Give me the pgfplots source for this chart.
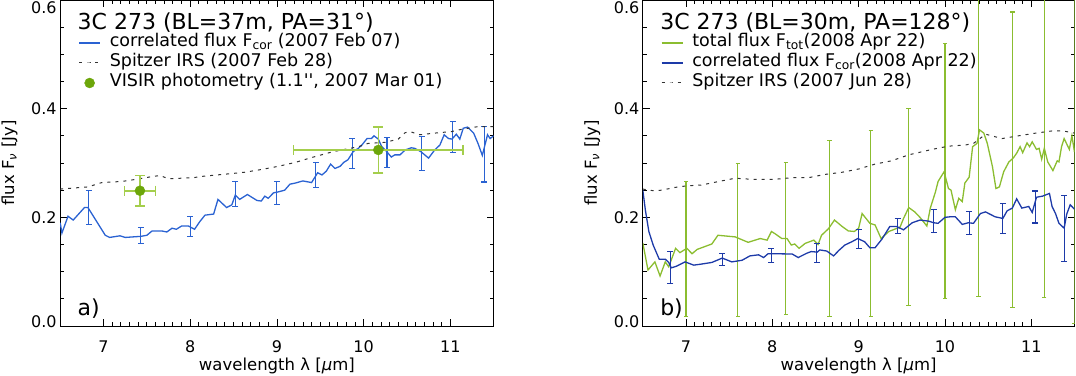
\documentclass[border=0pt]{standalone}
\usepackage{fontspec}
\setmainfont{DejaVu Sans}
\usepackage{pgfplots}
\pgfplotsset{compat=1.18}

\definecolor{corA}{HTML}{2A62D2}
\definecolor{corB}{HTML}{1D3AA8}
\definecolor{totG}{HTML}{8BBD30}
\definecolor{dotG}{HTML}{6CA60A}
\definecolor{errG}{HTML}{A4CE4C}
\definecolor{spz}{HTML}{333333}

\pgfplotsset{
  irsaxis/.style={
    scale only axis, height=326pt,
    xmin=6.5, xmax=11.5, ymin=0, ymax=0.6,
    xtick={7,8,9,10,11}, xticklabels={7,8,9,10,11},
    ytick={0,0.2,0.4,0.6},
    yticklabels={{\raisebox{4pt}[\height][\depth]{0.0}},0.2,0.4,{\raisebox{-7.5pt}[\height][\depth]{0.6}}},
    minor x tick num=9, minor y tick num=3,
    major tick length=7pt, minor tick length=4pt,
    tick style={black, line width=0.8pt},
    axis line style={black, line width=1pt},
    tick label style={font=\fontsize{16}{19}\selectfont},
    xticklabel style={yshift=-11.5pt},
    xlabel={wavelength λ [{\itshape μ}m]},
    ylabel={flux F\textsubscript{\itshape ν} [Jy]},
    every axis x label/.style={at={(axis description cs:0.5,-0.123)}, anchor=center,
      font=\fontsize{16.5}{20}\selectfont},
    every axis y label/.style={at={(axis description cs:-0.117,0.5)}, anchor=center, rotate=90,
      font=\fontsize{16.5}{20}\selectfont},
    legend style={draw=none, fill=none, inner sep=0pt, outer sep=0pt,
      at={(axis description cs:0.0422,0.8988)}, anchor=north west,
      font=\fontsize{17.5}{20}\selectfont, row sep=0pt,
      nodes={inner xsep=0pt, inner ysep=0pt, text height=14pt, text depth=6pt},
      /tikz/every odd column/.append style={column sep=9pt}},
    legend cell align=left,
    legend image code/.code={\draw[mark repeat=2,mark phase=2,#1] plot coordinates {(0pt,0pt) (10.5pt,0pt) (21pt,0pt)};},
  },
  spitzer/.style={color=spz, line width=1pt, dash pattern=on 3pt off 5pt},
  ebars/.style 2 args={draw=none, mark=none, forget plot,
    error bars/.cd, y dir=both, y explicit,
    error bar style={draw=#1, line width=1.1pt},
    error mark options={rotate=90, draw=#1, line width=1.1pt, mark size=#2}},
}

\begin{document}
\begin{tikzpicture}
\useasboundingbox (0,0) rectangle (1076pt,375pt);

% ---------------- a) BL=37m ----------------
\begin{axis}[irsaxis, width=433.4pt, at={(60.2pt,49pt)}, anchor=south west]
\addplot[color=corA, line width=1.3pt] table {
6.50 0.190
6.52 0.171
6.59 0.202
6.65 0.195
6.78 0.218
6.82 0.218
7.02 0.167
7.07 0.163
7.19 0.166
7.25 0.163
7.34 0.164
7.43 0.165
7.50 0.167
7.56 0.175
7.67 0.175
7.73 0.173
7.79 0.180
7.84 0.178
7.90 0.184
7.98 0.184
8.05 0.178
8.11 0.192
8.17 0.204
8.27 0.206
8.32 0.233
8.42 0.218
8.48 0.223
8.52 0.241
8.57 0.233
8.66 0.242
8.77 0.231
8.82 0.230
8.86 0.239
8.90 0.235
8.96 0.245
9.02 0.247
9.09 0.250
9.15 0.261
9.21 0.263
9.30 0.267
9.40 0.264
9.47 0.282
9.52 0.278
9.57 0.285
9.62 0.298
9.67 0.290
9.73 0.294
9.77 0.301
9.82 0.306
9.88 0.321
9.94 0.327
9.98 0.333
10.04 0.345
10.09 0.345
10.12 0.350
10.17 0.344
10.21 0.330
10.25 0.324
10.32 0.311
10.36 0.315
10.42 0.315
10.48 0.324
10.55 0.328
10.59 0.327
10.66 0.321
10.75 0.309
10.82 0.324
10.88 0.333
10.93 0.352
10.98 0.345
11.02 0.344
11.07 0.353
11.11 0.344
11.15 0.364
11.20 0.366
11.27 0.355
11.32 0.336
11.37 0.314
11.43 0.352
11.46 0.345
11.50 0.350
};
\addlegendentry{correlated flux F\textsubscript{cor} (2007 Feb 07)}
\addplot[ebars={corA}{3pt}]
  table[x index=0, y index=1, y error index=2] {
6.83 0.218 0.031
7.43 0.167 0.015
8.00 0.183 0.019
8.52 0.243 0.023
9.00 0.245 0.0215
9.45 0.278 0.023
9.87 0.318 0.0275
10.27 0.319 0.028
10.67 0.317 0.0315
11.03 0.348 0.028
11.39 0.316 0.051
};
\addplot[spitzer] table {
6.50 0.252
6.82 0.256
6.98 0.264
7.21 0.266
7.38 0.270
7.56 0.275
7.65 0.277
7.75 0.271
8.04 0.273
8.11 0.275
8.44 0.280
8.63 0.283
8.82 0.288
9.02 0.294
9.21 0.301
9.40 0.310
9.65 0.321
9.75 0.324
9.94 0.330
10.05 0.336
10.25 0.338
10.40 0.344
10.48 0.356
10.55 0.357
10.65 0.352
10.82 0.355
11.02 0.358
11.13 0.362
11.32 0.367
11.50 0.367
};
\addlegendentry{Spitzer IRS (2007 Feb 28)}
\addplot[only marks, mark=*, mark size=5pt, color=dotG, mark options={draw=dotG, fill=dotG},
  error bars/.cd, x dir=both, x explicit, y dir=both, y explicit,
  error bar style={draw=errG, line width=1.6pt},
  error mark options={rotate=90, draw=errG, line width=1.6pt, mark size=5pt}]
  table[x index=0, y index=1, x error index=2, y error index=3] {
7.42 0.249 0.18 0.028
10.17 0.324 0.98 0.042
};
\addlegendentry{VISIR photometry (1.1\textquotesingle\textquotesingle, 2007 Mar 01)}
\node[anchor=base west, font=\fontsize{22}{26}\selectfont, inner sep=0pt] at (rel axis cs:0.040,0.911) {3C 273 (BL=37m, PA=31°)};
\node[anchor=base west, font=\fontsize{22}{26}\selectfont, inner sep=0pt] at (rel axis cs:0.040,0.031) {a)};
\end{axis}

% ---------------- b) BL=30m ----------------
\begin{axis}[irsaxis, width=431.7pt, at={(642.8pt,49pt)}, anchor=south west]
\addplot[color=totG, line width=1.3pt] table {
6.50 0.153
6.56 0.103
6.64 0.118
6.70 0.092
6.76 0.118
6.80 0.109
6.88 0.143
6.93 0.135
7.01 0.143
7.07 0.133
7.13 0.141
7.30 0.151
7.37 0.167
7.57 0.164
7.72 0.154
7.86 0.161
7.94 0.158
7.99 0.174
8.03 0.170
8.11 0.161
8.17 0.161
8.22 0.149
8.26 0.151
8.31 0.143
8.38 0.152
8.48 0.158
8.53 0.150
8.57 0.167
8.65 0.179
8.72 0.195
8.81 0.183
8.88 0.175
8.95 0.174
9.00 0.180
9.04 0.207
9.13 0.189
9.19 0.186
9.26 0.161
9.35 0.174
9.48 0.182
9.52 0.198
9.58 0.218
9.65 0.210
9.71 0.200
9.79 0.184
9.83 0.217
9.89 0.247
9.92 0.266
9.99 0.284
10.04 0.253
10.07 0.250
10.12 0.214
10.16 0.235
10.20 0.229
10.23 0.263
10.28 0.274
10.32 0.330
10.37 0.336
10.40 0.361
10.45 0.355
10.49 0.336
10.55 0.293
10.59 0.253
10.63 0.256
10.68 0.284
10.74 0.302
10.79 0.309
10.83 0.318
10.87 0.330
10.90 0.319
10.95 0.337
10.98 0.330
11.01 0.339
11.06 0.325
11.09 0.327
11.12 0.307
11.15 0.327
11.19 0.302
11.25 0.286
11.30 0.304
11.32 0.302
11.35 0.330
11.38 0.345
11.44 0.325
11.47 0.350
11.50 0.320
};
\addlegendentry{total flux F\textsubscript{tot}(2008 Apr 22)}
\addplot[ebars={totG}{2.2pt}]
  table[x index=0, y index=1, y error index=2] {
7.00 0.142 0.124
7.60 0.158 0.141
8.155 0.161 0.140
8.66 0.180 0.162
9.14 0.188 0.171
9.577 0.219 0.182
10.00 0.285 0.235
10.39 0.360 0.305
10.78 0.306 0.272
11.15 0.327 0.274
11.50 0.320 0.316
};
\addplot[color=corB, line width=1.3pt] table {
6.50 0.250
6.53 0.213
6.57 0.174
6.62 0.149
6.69 0.123
6.76 0.123
6.80 0.117
6.83 0.107
6.89 0.110
6.99 0.118
7.09 0.112
7.18 0.114
7.30 0.117
7.42 0.125
7.53 0.118
7.65 0.121
7.74 0.129
7.84 0.131
7.90 0.126
7.95 0.133
8.03 0.133
8.23 0.1325
8.30 0.126
8.40 0.134
8.45 0.137
8.52 0.136
8.55 0.140
8.63 0.138
8.71 0.129
8.77 0.139
8.84 0.149
8.92 0.155
8.99 0.161
9.07 0.155
9.13 0.144
9.19 0.144
9.27 0.160
9.36 0.183
9.44 0.183
9.52 0.177
9.62 0.190
9.71 0.195
9.81 0.193
9.87 0.190
9.92 0.189
10.00 0.200
10.06 0.201
10.12 0.201
10.20 0.187
10.27 0.190
10.33 0.189
10.41 0.207
10.47 0.210
10.58 0.201
10.67 0.198
10.72 0.212
10.78 0.217
10.83 0.234
10.89 0.217
10.97 0.220
11.01 0.209
11.06 0.237
11.13 0.239
11.21 0.244
11.24 0.220
11.28 0.207
11.32 0.189
11.38 0.180
11.41 0.206
11.45 0.223
11.50 0.215
};
\addlegendentry{correlated flux F\textsubscript{cor}(2008 Apr 22)}
\addplot[ebars={corB}{3pt}]
  table[x index=0, y index=1, y error index=2] {
6.82 0.108 0.029
7.42 0.1225 0.0115
7.99 0.130 0.0125
8.515 0.135 0.0175
9.00 0.160 0.017
9.45 0.184 0.0145
9.87 0.193 0.0215
10.28 0.189 0.021
10.67 0.198 0.0275
11.045 0.219 0.0295
11.38 0.180 0.061
};
\addplot[spitzer] table {
6.50 0.252
6.62 0.249
6.72 0.250
6.87 0.255
7.01 0.258
7.18 0.2595
7.38 0.266
7.57 0.272
7.76 0.270
8.03 0.270
8.23 0.273
8.42 0.273
8.61 0.279
8.81 0.283
9.00 0.289
9.19 0.298
9.38 0.304
9.58 0.315
9.66 0.318
9.85 0.325
10.04 0.331
10.23 0.333
10.33 0.336
10.47 0.353
10.66 0.345
10.85 0.350
11.05 0.355
11.24 0.359
11.37 0.359
11.50 0.355
};
\addlegendentry{Spitzer IRS (2007 Jun 28)}
\node[anchor=base west, font=\fontsize{22}{26}\selectfont, inner sep=0pt] at (rel axis cs:0.040,0.911) {3C 273 (BL=30m, PA=128°)};
\node[anchor=base west, font=\fontsize{22}{26}\selectfont, inner sep=0pt] at (rel axis cs:0.040,0.031) {b)};
\end{axis}
\end{tikzpicture}
\end{document}
